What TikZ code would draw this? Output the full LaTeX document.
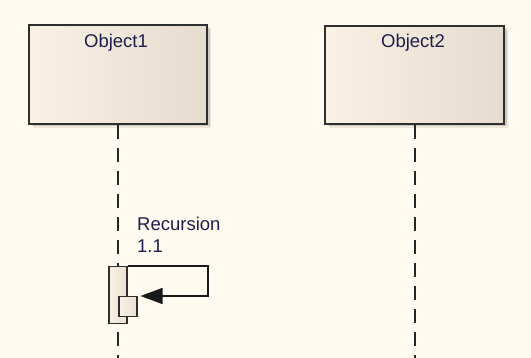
\documentclass[tikz,border=0pt]{standalone}
\usepackage{fontspec}
\setmainfont{Liberation Sans}
\usetikzlibrary{arrows.meta,calc}
\definecolor{bg}{HTML}{FFFBF0}
\definecolor{boxl}{HTML}{FAF1E5}
\definecolor{boxr}{HTML}{E5DCCF}
\definecolor{edge}{HTML}{2E2E2E}
\definecolor{txt}{HTML}{1E1E4A}
\tikzset{
  objbox/.style={draw=edge, line width=2pt, left color=boxl, right color=boxr, rectangle, inner sep=0pt},
  actbox/.style={draw=edge, line width=1.5pt, left color=boxl, right color=boxr!80!boxl, rectangle, inner sep=0pt},
  lifeline/.style={draw=black!85, line width=1.6pt, dash pattern=on 14pt off 9pt},
  msg/.style={draw=black!90, line width=1.5pt},
  lbl/.style={text=txt, font=\fontsize{18.5}{21}\selectfont, inner sep=0pt},
}
\begin{document}
\begin{tikzpicture}[x=1pt,y=-1pt]
\fill[bg] (0,0) rectangle (531,358);
\useasboundingbox (0,0) rectangle (531,358);
% shadows
\foreach \d/\o in {2/0.16,3.5/0.12,5/0.08}{
  \fill[black,opacity=\o] (28+\d,24+\d) rectangle (206+\d,123+\d);
  \fill[black,opacity=\o] (324+\d,25+\d) rectangle (503+\d,123+\d);
}
\node[objbox, minimum width=178pt, minimum height=99pt, anchor=north west] (o1) at (28,24) {};
\node[objbox, minimum width=179pt, minimum height=98pt, anchor=north west] (o2) at (324,25) {};
\node[lbl] (t1) at (116,43) {Object1};
\node[lbl] (t2) at (413,43) {Object2};
% lifelines
\coordinate (e1) at (118,358);
\coordinate (e2) at (415,358);
\draw[lifeline] (o1.south -| e1) -- (e1);
\draw[lifeline] (o2.south -| e2) -- (e2);
% activations
\node[actbox, minimum width=18pt, minimum height=57pt, anchor=north west] (a1) at (108,266) {};
\node[actbox, minimum width=18pt, minimum height=20pt, anchor=north west] (a2) at (118,296) {};
% recursion message
\coordinate (m1) at (208,266);
\coordinate (m2) at (208,296);
\draw[msg, -{Triangle[length=22pt,width=16pt]}, shorten >=3pt] (a1.north east) -- (m1) -- (m2) -- (a2.north east |- m2);
\node[lbl, anchor=base west] (r1) at (137,231) {Recursion};
\node[lbl, anchor=base west] (r2) at (137,253) {1.1};
\end{tikzpicture}
\end{document}
